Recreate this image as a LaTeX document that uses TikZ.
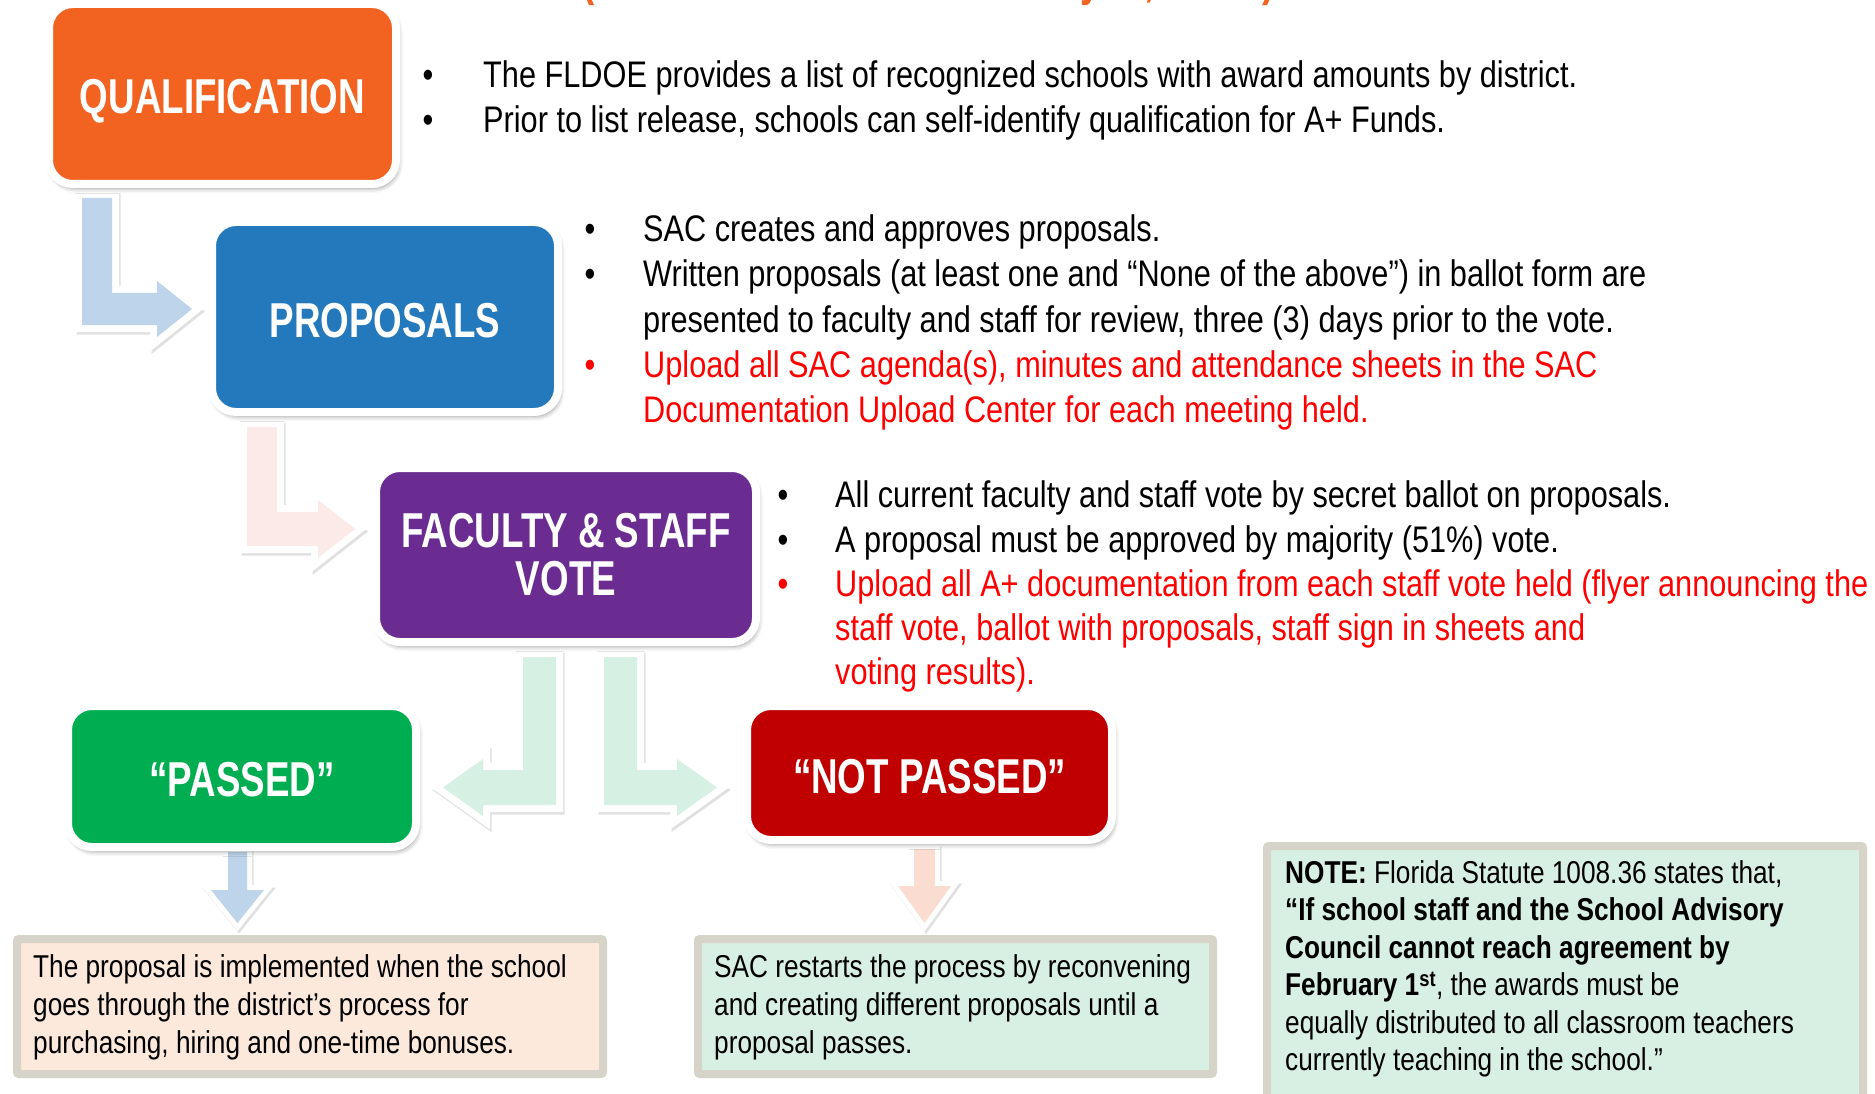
\documentclass[tikz,border=0pt]{standalone}
\usepackage{fontspec}
\setmainfont{Liberation Sans}[FakeStretch=0.83]
\newfontfamily\stagefont{Liberation Sans}[FakeStretch=0.75]
\usetikzlibrary{shadows.blur}

\definecolor{qualOrange}{RGB}{242,99,34}
\definecolor{propBlue}{RGB}{36,121,189}
\definecolor{votePurple}{RGB}{107,44,145}
\definecolor{passGreen}{RGB}{0,173,80}
\definecolor{failRed}{RGB}{192,0,0}
\definecolor{arrowBlue}{RGB}{189,212,234}
\definecolor{arrowPink}{RGB}{252,234,232}
\definecolor{arrowMint}{RGB}{214,240,227}
\definecolor{arrowPeach}{RGB}{250,220,208}
\definecolor{noteBeige}{RGB}{253,233,220}
\definecolor{noteMint}{RGB}{215,240,227}
\definecolor{noteFrame}{RGB}{214,211,201}
\definecolor{alertRed}{RGB}{255,0,0}

\begin{document}
\begin{tikzpicture}[x=1pt,y=-1pt,
  stagebox/.style={draw=white, line width=8pt, rounded corners=24pt,
    blur shadow={shadow xshift=2pt, shadow yshift=-4pt, shadow blur radius=5pt, shadow opacity=45},
    text=white, font=\stagefont\bfseries\fontsize{49}{48}\selectfont, align=center, inner sep=0pt},
  oneline/.style={text height=40pt, text depth=0pt},
  infobox/.style={draw=noteFrame, line width=8pt, rounded corners=2pt, anchor=north west, inner sep=0pt},
  blockarrow/.style={line join=miter, miter limit=10,
    preaction={draw=black, draw opacity=0.12, line width=#1, line join=miter,
      transform canvas={xshift=1.5pt, yshift=-2.5pt}},
    preaction={draw=white, line width=#1, line join=miter}},
  blockarrow/.default=14pt,
  bodytext/.style={anchor=base west, inner sep=0pt, font=\fontsize{37}{45}\selectfont},
  bulletmark/.style={anchor=base, inner sep=0pt, font=\fontsize{37}{45}\selectfont},
  boxtext/.style={anchor=base west, inner sep=0pt, font=\fontsize{31.6}{38}\selectfont},
  titlebit/.style={anchor=base west, inner sep=0pt, text=qualOrange, font=\stagefont\bfseries\fontsize{49}{48}\selectfont}
]
\useasboundingbox (0,0) rectangle (1875,1094);
\clip (0,0) rectangle (1875,1094);

% heading line running off the top edge
\node[titlebit] (titleOpen) at (582,-4) {(};
\node[titlebit] (titleY) at (1080,-4) {y};
\node[titlebit] (titleComma) at (1144,-4) {,};
\node[titlebit] (titleClose) at (1262,-4) {)};

% bent block arrows between the stages
\path[blockarrow, fill=arrowBlue]
  (82,198) -- (112,198) -- (112,293) -- (157,293) -- (157,281) -- (192,309)
  -- (157,337) -- (157,325) -- (82,325) -- cycle;
\path[blockarrow, fill=arrowPink]
  (247,427) -- (277,427) -- (277,512) -- (318,512) -- (318,500) -- (355,529)
  -- (318,558) -- (318,546) -- (247,546) -- cycle;
\path[blockarrow, fill=arrowMint]
  (556,657) -- (556,805) -- (483,805) -- (483,816) -- (443,787.5)
  -- (483,759) -- (483,770) -- (523,770) -- (523,657) -- cycle;
\path[blockarrow, fill=arrowMint]
  (604,657) -- (637,657) -- (637,770) -- (677,770) -- (677,759) -- (717,787.5)
  -- (677,816) -- (677,805) -- (604,805) -- cycle;
\path[blockarrow=10pt, fill=arrowBlue]
  (228,852) -- (247,852) -- (247,890) -- (264,890) -- (237.5,923)
  -- (211,890) -- (228,890) -- cycle;
\path[blockarrow=10pt, fill=arrowPeach]
  (914,849) -- (935,849) -- (935,886) -- (951,886) -- (924.5,923)
  -- (898,886) -- (914,886) -- cycle;

% stage boxes
\node[stagebox, oneline, fill=qualOrange, minimum width=347pt, minimum height=180pt] (qual) at (222.5,94) {QUALIFICATION};
\node[stagebox, oneline, fill=propBlue, minimum width=346pt, minimum height=190pt] (prop) at (385,317) {PROPOSALS};
\node[stagebox, fill=votePurple, minimum width=380pt, minimum height=174pt] (vote) at (566,555) {FACULTY \& STAFF\\VOTE};
\node[stagebox, oneline, fill=passGreen, minimum width=348pt, minimum height=141pt] (pass) at (242,776.5) {“PASSED”};
\node[stagebox, oneline, fill=failRed, minimum width=365pt, minimum height=134pt] (fail) at (929.5,773) {“NOT PASSED”};

% qualification notes
\node[bulletmark] (qb1) at (428,88) {•};
\node[bodytext] (qt1) at (483,88) {The FLDOE provides a list of recognized schools with award amounts by district.};
\node[bulletmark] (qb2) at (428,133) {•};
\node[bodytext] (qt2) at (483,133) {Prior to list release, schools can self-identify qualification for A+ Funds.};

% proposal notes
\node[bulletmark] (pb1) at (590,242) {•};
\node[bodytext] (pt1) at (643,242) {SAC creates and approves proposals.};
\node[bulletmark] (pb2) at (590,287) {•};
\node[bodytext] (pt2) at (643,287) {Written proposals (at least one and “None of the above”) in ballot form are};
\node[bodytext] (pt3) at (643,332) {presented to faculty and staff for review, three (3) days prior to the vote.};
\node[bulletmark, text=alertRed] (pb3) at (590,377) {•};
\node[bodytext, text=alertRed] (pt4) at (643,377) {Upload all SAC agenda(s), minutes and attendance sheets in the SAC};
\node[bodytext, text=alertRed] (pt5) at (643,422) {Documentation Upload Center for each meeting held.};

% vote notes
\node[bulletmark] (vb1) at (783,507) {•};
\node[bodytext] (vt1) at (835,507) {All current faculty and staff vote by secret ballot on proposals.};
\node[bulletmark] (vb2) at (783,552) {•};
\node[bodytext] (vt2) at (835,552) {A proposal must be approved by majority (51\%) vote.};
\node[bulletmark, text=alertRed] (vb3) at (783,596) {•};
\node[bodytext, text=alertRed] (vt3) at (835,596) {Upload all A+ documentation from each staff vote held (flyer announcing the};
\node[bodytext, text=alertRed] (vt4) at (835,640) {staff vote, ballot with proposals, staff sign in sheets and};
\node[bodytext, text=alertRed] (vt5) at (835,684) {voting results).};

% outcome boxes
\node[infobox, fill=noteBeige, minimum width=586pt, minimum height=135pt] (passbox) at (13,935) {};
\node[boxtext] (pl1) at (33,977) {The proposal is implemented when the school};
\node[boxtext] (pl2) at (33,1015) {goes through the district’s process for};
\node[boxtext] (pl3) at (33,1053) {purchasing, hiring and one-time bonuses.};

\node[infobox, fill=noteMint, minimum width=515pt, minimum height=135pt] (failbox) at (694,935) {};
\node[boxtext] (fl1) at (714,977) {SAC restarts the process by reconvening};
\node[boxtext] (fl2) at (714,1015) {and creating different proposals until a};
\node[boxtext] (fl3) at (714,1053) {proposal passes.};

% statute note
\node[infobox, fill=noteMint, minimum width=596pt, minimum height=280pt] (notebox) at (1263,842) {};
\node[boxtext] (nl1) at (1285,883) {\textbf{NOTE:} Florida Statute 1008.36 states that,};
\node[boxtext] (nl2) at (1285,920.5) {\textbf{“If school staff and the School Advisory}};
\node[boxtext] (nl3) at (1285,958) {\textbf{Council cannot reach agreement by}};
\node[boxtext] (nl4) at (1285,995.5) {\textbf{February 1\textsuperscript{st}}, the awards must be};
\node[boxtext] (nl5) at (1285,1033) {equally distributed to all classroom teachers};
\node[boxtext] (nl6) at (1285,1070.5) {currently teaching in the school.”};
\end{tikzpicture}
\end{document}
